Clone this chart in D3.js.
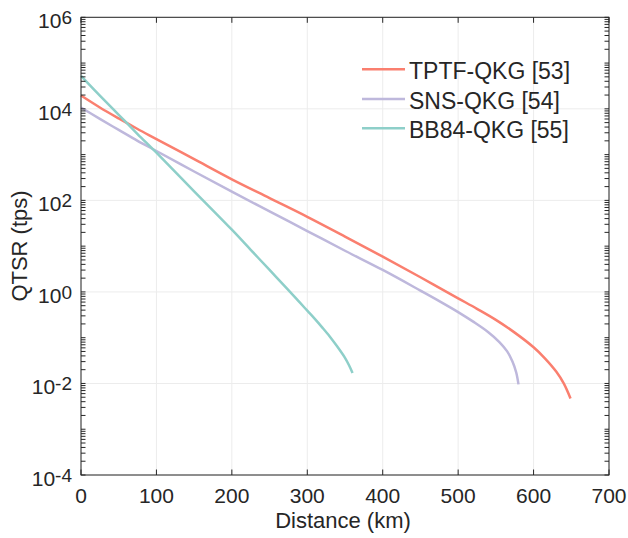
<!DOCTYPE html>
<html><head><meta charset="utf-8">
<script src="https://cdn.jsdelivr.net/npm/d3@7"></script>
<style>body{margin:0;background:#fff}svg{display:block}text{font-family:"Liberation Sans",Arial,sans-serif;fill:#262626}</style>
</head><body><svg id="c" width="628" height="538"></svg>
<script>
const seriesNames = ["TPTF-QKG [53]", "SNS-QKG [54]", "BB84-QKG [55]"];
const seriesColors = ["#FA7F6F", "#BEB8DC", "#8ECFC9"];
const tptfKm = [0,25,50,75,100,150,200,250,300,350,400,450,500,525,550,575,600,615,630,640,649];
const tptfRate = [19500,10700,6170,3630,2190,794,288,112,43.7,16.2,5.89,2.09,0.724,0.427,0.245,0.129,0.0617,0.0355,0.0182,0.01,0.00468];
const snsKm = [0,25,50,75,100,150,200,250,300,350,400,450,475,500,520,540,555,565,572,577,580];
const snsRate = [10700,6030,3470,2000,1200,427,155,57.5,21.4,7.94,3.02,1.07,0.631,0.363,0.224,0.132,0.0794,0.0501,0.0302,0.0174,0.00955];
const bb84Km = [0,25,50,75,100,150,200,225,250,275,290,300,310,320,330,340,350,355,360];
const bb84Rate = [52500,19500,7410,2820,1100,158,22.9,8.32,3.02,1.10,0.589,0.389,0.257,0.166,0.105,0.0631,0.0363,0.0257,0.0170];
const xTicks = [0,100,200,300,400,500,600,700];
const yExps = [-4,-2,0,2,4,6];

const svg = d3.select("#c");
const L=81, R=609, T=17.3, B=475;
const x = d3.scaleLinear().domain([0,700]).range([L,R]);
const y = d3.scaleLog().domain([1e-4,1e6]).range([B,T]);

// grid
const g = svg.append("g");
g.selectAll("line.gx").data(xTicks).join("line").attr("x1",d=>x(d)).attr("x2",d=>x(d)).attr("y1",T).attr("y2",B).attr("stroke","#ececec").attr("stroke-width",1);
g.selectAll("line.gy").data(yExps).join("line").attr("y1",d=>y(Math.pow(10,d))).attr("y2",d=>y(Math.pow(10,d))).attr("x1",L).attr("x2",R).attr("stroke","#ececec").attr("stroke-width",1);

// series
const line = d3.line().x(d=>x(d[0])).y(d=>y(d[1])).curve(d3.curveCatmullRom.alpha(0.5));
const series = [[tptfKm,tptfRate],[snsKm,snsRate],[bb84Km,bb84Rate]];
series.forEach((s,i)=>{
  svg.append("path").datum(s[0].map((k,j)=>[k,s[1][j]])).attr("d",line).attr("fill","none").attr("stroke",seriesColors[i]).attr("stroke-width",2.5);
});

// axes box
const ax = svg.append("g").attr("stroke","#262626").attr("stroke-width",1).attr("fill","none");
ax.append("rect").attr("x",L).attr("y",T).attr("width",R-L).attr("height",B-T);
xTicks.forEach(t=>{
  ax.append("line").attr("x1",x(t)).attr("x2",x(t)).attr("y1",B).attr("y2",B-5.5);
  ax.append("line").attr("x1",x(t)).attr("x2",x(t)).attr("y1",T).attr("y2",T+5.5);
});
const yTickVals = [];
for(let e=-4;e<6;e++){ for(let m=1;m<10;m++) yTickVals.push(m*Math.pow(10,e)); }
yTickVals.push(1e6);
yTickVals.forEach(v=>{
  const yy=y(v);
  ax.append("line").attr("x1",L).attr("x2",L+4.5).attr("y1",yy).attr("y2",yy);
  ax.append("line").attr("x1",R).attr("x2",R-4.5).attr("y1",yy).attr("y2",yy);
});

// x tick labels
svg.selectAll("text.xt").data(xTicks).join("text").attr("x",d=>x(d)).attr("y",503).attr("text-anchor","middle").attr("font-size",21).text(d=>d);
// y tick labels
yExps.forEach(e=>{
  const t = svg.append("text").attr("x",72).attr("y",y(Math.pow(10,e))+11).attr("text-anchor","end").attr("font-size",21);
  t.append("tspan").text("10");
  t.append("tspan").attr("dy",-4).attr("font-size",19).text(e);
});
// axis labels
svg.append("text").attr("x",343).attr("y",528).attr("text-anchor","middle").attr("font-size",22).text("Distance (km)");
svg.append("text").attr("transform","translate(27,246) rotate(-90)").attr("text-anchor","middle").attr("font-size",22).text("QTSR (tps)");

// legend
const legY=[69.3,99,128.3];
seriesNames.forEach((n,i)=>{
  svg.append("line").attr("x1",362).attr("x2",405).attr("y1",legY[i]).attr("y2",legY[i]).attr("stroke",seriesColors[i]).attr("stroke-width",2.5);
  svg.append("text").attr("x",409).attr("y",legY[i]+10).attr("font-size",23).text(n);
});
</script></body></html>
